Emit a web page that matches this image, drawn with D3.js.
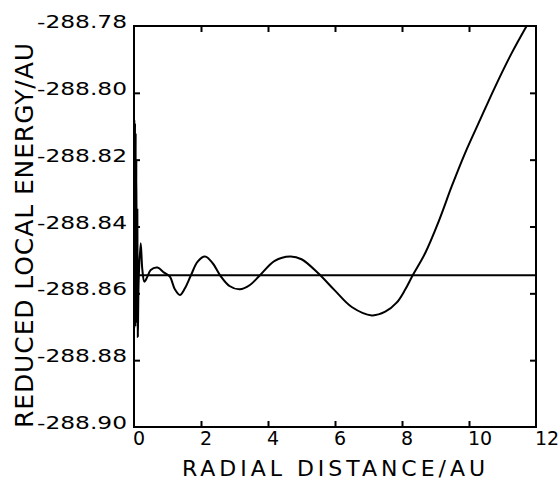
<!DOCTYPE html>
<html><head><meta charset="utf-8">
<script src="https://cdn.jsdelivr.net/npm/d3@7"></script>
<style>body{margin:0;background:#fff}svg{display:block}</style>
</head><body>
<script>
const radialDistance = [0, 0.010, 0.020, 0.030, 0.040, 0.050, 0.060, 0.070, 0.085, 0.100, 0.115, 0.140, 0.200, 0.250, 0.310, 0.400, 0.500, 0.700, 0.900, 1.07, 1.22, 1.37, 1.52, 1.70, 1.90, 2.12, 2.35, 2.57, 2.85, 3.16, 3.46, 3.76, 4.20, 4.66, 5.00, 5.50, 6.00, 6.50, 7.10, 7.50, 7.84, 8.10, 8.32, 8.69, 9.11, 9.48, 9.88, 10.33, 10.78, 11.27, 11.72];
const localEnergy = [-288.855, -288.808, -288.868, -288.809, -288.870, -288.812, -288.869, -288.820, -288.866, -288.835, -288.873, -288.856, -288.845, -288.853, -288.8565, -288.855, -288.853, -288.8523, -288.8538, -288.8550, -288.8588, -288.8605, -288.8585, -288.8546, -288.8505, -288.8490, -288.8510, -288.8546, -288.8578, -288.8588, -288.8575, -288.8546, -288.8503, -288.8490, -288.8498, -288.8540, -288.8592, -288.8641, -288.8666, -288.8655, -288.8628, -288.8588, -288.8546, -288.8480, -288.8381, -288.8281, -288.8181, -288.8081, -288.7982, -288.7882, -288.7800];
const referenceEnergy = [-288.8546, -288.8546];
const referenceX = [0, 12];
const xTicks = [0, 2, 4, 6, 8, 10, 12];
const yTicks = [-288.78, -288.80, -288.82, -288.84, -288.86, -288.88, -288.90];
const xTitle = "RADIAL DISTANCE/AU";
const yTitle = "REDUCED LOCAL ENERGY/AU";

const W = 560, H = 480;
const m = {left: 134, right: 24, top: 26, bottom: 53};
const svg = d3.select("body").append("svg").attr("width", W).attr("height", H);
const x = d3.scaleLinear().domain([0, 12]).range([m.left, W - m.right]);
const y = d3.scaleLinear().domain([-288.90, -288.78]).range([H - m.bottom, m.top]);
const font = "'DejaVu Sans', sans-serif";

// frame
svg.append("rect").attr("x", x(0)).attr("y", y(-288.78))
  .attr("width", x(12) - x(0)).attr("height", y(-288.90) - y(-288.78))
  .attr("fill", "none").attr("stroke", "#000").attr("stroke-width", 2);

// axes with inward ticks
const tl = 6;
svg.append("g").attr("transform", `translate(0,${y(-288.90)})`)
  .call(d3.axisBottom(x).tickValues(xTicks.slice(1, -1)).tickSize(-tl).tickFormat(""))
  .call(g => g.select(".domain").remove());
svg.append("g").attr("transform", `translate(0,${y(-288.78)})`)
  .call(d3.axisTop(x).tickValues(xTicks.slice(1, -1)).tickSize(-tl).tickFormat(""))
  .call(g => g.select(".domain").remove());
svg.append("g").attr("transform", `translate(${x(0)},0)`)
  .call(d3.axisLeft(y).tickValues(yTicks.slice(1, -1)).tickSize(-tl).tickFormat(""))
  .call(g => g.select(".domain").remove());
svg.append("g").attr("transform", `translate(${x(12)},0)`)
  .call(d3.axisRight(y).tickValues(yTicks.slice(1, -1)).tickSize(-tl).tickFormat(""))
  .call(g => g.select(".domain").remove());
svg.selectAll(".tick line").attr("stroke", "#000").attr("stroke-width", 2);

// tick labels
svg.append("g").selectAll("text").data(xTicks).join("text")
  .attr("x", d => x(d) - 1).attr("y", y(-288.90) + 18)
  .attr("font-family", font).attr("font-size", 19).attr("text-anchor", "start")
  .text(d => d);
svg.append("g").selectAll("text").data(yTicks).join("text")
  .attr("x", x(0) - 7).attr("y", d => y(d) + 2)
  .attr("font-family", font).attr("font-size", 18).attr("text-anchor", "end")
  .attr("textLength", 90).attr("lengthAdjust", "spacingAndGlyphs")
  .text(d => d.toFixed(2));

// titles
svg.append("text").attr("x", 182).attr("y", 476)
  .attr("font-family", font).attr("font-size", 22)
  .attr("textLength", 303).attr("lengthAdjust", "spacing")
  .text(xTitle);
svg.append("text").attr("transform", "translate(33,428) rotate(-90)")
  .attr("font-family", font).attr("font-size", 25)
  .attr("textLength", 385).attr("lengthAdjust", "spacing")
  .text(yTitle);

// clip
svg.append("clipPath").attr("id", "c").append("rect")
  .attr("x", x(0)).attr("y", y(-288.78)).attr("width", x(12) - x(0)).attr("height", y(-288.90) - y(-288.78));

// reference line
svg.append("path").datum(referenceX.map((d, i) => [d, referenceEnergy[i]]))
  .attr("d", d3.line().x(d => x(d[0])).y(d => y(d[1])))
  .attr("stroke", "#000").attr("stroke-width", 2).attr("fill", "none");

// energy curve
svg.append("path").datum(radialDistance.map((d, i) => [d, localEnergy[i]]))
  .attr("clip-path", "url(#c)")
  .attr("d", d3.line().x(d => x(d[0])).y(d => y(d[1])).curve(d3.curveCatmullRom.alpha(0.5)))
  .attr("stroke", "#000").attr("stroke-width", 2).attr("fill", "none");
</script>
</body></html>
